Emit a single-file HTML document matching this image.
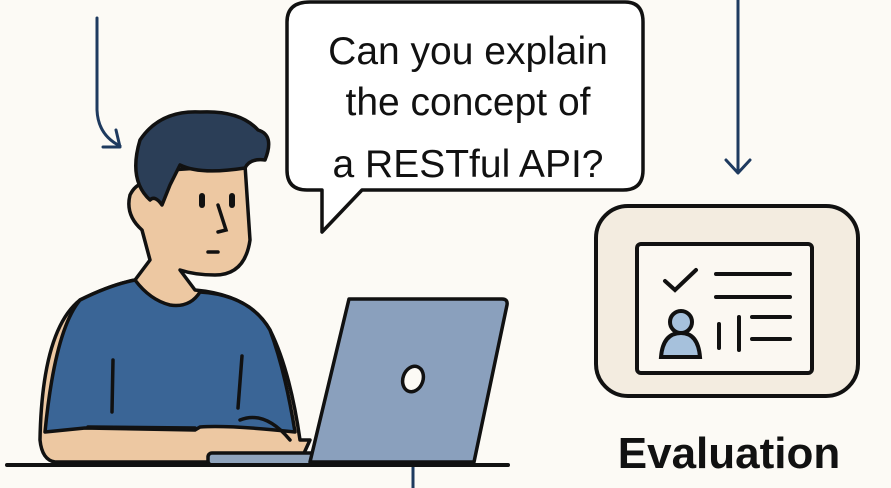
<!DOCTYPE html>
<html><head><style>body{margin:0;background:#fcfaf5}svg{display:block}</style></head><body>
<svg width="891" height="488" viewBox="0 0 891 488" xmlns="http://www.w3.org/2000/svg">
<rect width="891" height="488" fill="#fcfaf5"/>
<g fill="none" stroke="#1e3a5f" stroke-width="3" stroke-linecap="round" stroke-linejoin="round">
<path d="M97 18 V110 Q98 135 120 146"/><path d="M103 147 L120 147 L116 130"/>
<path d="M738 0 V172"/><path d="M726 160 L738 173 L750 160"/>
<path d="M413 466 V488"/>
</g>
<path d="M310 2 H625 Q643 2 643 22 V170 Q643 190 623 190 H362 L322 232 V190 H307 Q287 190 287 170 V22 Q287 2 310 2 Z" fill="#fff" stroke="#111" stroke-width="3.5" stroke-linejoin="round"/>
<g font-family="Liberation Sans, sans-serif" font-size="39" fill="#111" text-anchor="middle">
<text x="468" y="64">Can you explain</text>
<text x="468" y="115">the concept of</text>
<text x="468" y="177">a RESTful API?</text>
</g>
<g stroke="#111" stroke-width="3.5" stroke-linejoin="round" stroke-linecap="round">
<path d="M40 440 Q42 330 80 300 Q110 285 135 280 L150 260 L142 230 Q125 215 130 195 Q140 175 160 190 L170 170 L245 165 L250 240 Q245 275 215 275 Q195 275 180 270 L195 290 Q250 295 270 330 Q290 370 300 440 L310 440 L300 462 L55 462 Q42 460 40 440 Z" fill="#edc8a2"/>
<path d="M135 280 Q150 300 170 305 Q190 308 200 292 Q250 295 270 330 Q285 370 295 432 Q230 425 200 427 L195 430 L85 428 L45 432 Q55 330 80 300 Q110 285 135 280 Z" fill="#3a6596"/>
<path d="M150 200 Q128 180 140 140 Q160 110 200 112 Q240 110 258 130 Q275 135 265 160 Q250 158 245 168 Q200 175 180 165 L170 185 L162 205 Q155 195 150 200 Z" fill="#2b3e57"/>
<path d="M113 360 L112 412" fill="none"/><path d="M242 356 L238 408" fill="none"/>
<path d="M88 427 L195 428 M240 420 Q265 410 290 440" fill="none"/>
<rect x="208" y="453" width="125" height="12" rx="4" fill="#8fa3bc"/>
<path d="M349 299 H502 Q508 299 507 305 L474 462 H310 Z" fill="#8aa0bd"/>
<ellipse cx="413" cy="379" rx="10" ry="13" transform="rotate(20 413 379)" fill="#fcfaf5"/>
<path d="M7 465 H508" fill="none" stroke-width="4"/>
</g>
<g fill="#111">
<rect x="199" y="193" width="6" height="15" rx="3"/><rect x="229" y="193" width="6" height="15" rx="3"/>
</g>
<path d="M218 205 L226 230 L218 232 M208 252 H218" stroke="#111" stroke-width="3.5" fill="none" stroke-linecap="round"/>
<rect x="596" y="206" width="262" height="190" rx="32" fill="#f3ece0" stroke="#111" stroke-width="4"/>
<rect x="637" y="244" width="175" height="129" rx="4" fill="#fbf8f2" stroke="#111" stroke-width="4"/>
<g stroke="#111" stroke-width="4" stroke-linecap="round" fill="none">
<path d="M665 281 L675 290 L696 270"/>
<path d="M716 274 H790 M716 297 H790 M752 317 H790 M752 339 H790 M719 324 V348 M739 317 V350"/>
</g>
<path d="M661 357 Q663 333 681 333 Q698 333 700 357 Z" fill="#a6c1dc" stroke="#111" stroke-width="4"/>
<circle cx="681" cy="322" r="11" fill="#a6c1dc" stroke="#111" stroke-width="4"/>
<text x="729" y="468" font-family="Liberation Sans, sans-serif" font-weight="bold" font-size="44" text-anchor="middle" fill="#111">Evaluation</text>
</svg>
</body></html>
